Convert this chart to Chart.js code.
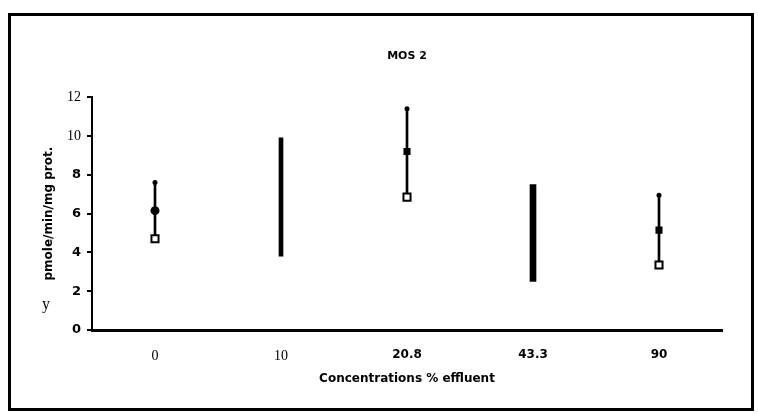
<!DOCTYPE html>
<html>
<head>
<meta charset="utf-8">
<script src="https://cdn.jsdelivr.net/npm/chart.js@4"></script>
<style>
  body { margin: 0; background: #fff; }
  #wrap { width: 758px; height: 416px; }
</style>
</head>
<body>
<div id="wrap"><canvas id="mos2-chart" width="758" height="416"></canvas></div>
<script>
// valeurs
const categories = ['0', '10', '20.8', '43.3', '90'];
const highs = [7.6, 9.9, 11.4, 7.5, 6.95];
const means = [6.15, null, 9.2, null, 5.15];
const lows = [4.7, 3.8, 6.85, 2.5, 3.35];
const yTicks = [0, 2, 4, 6, 8, 10, 12];

const serif = "'Liberation Serif', 'DejaVu Serif', serif";
const sans = "'DejaVu Sans', 'Liberation Sans', sans-serif";

// cadre + le petit "y" du scan
const framePlugin = {
    id: 'frame',
    afterDraw(chart) {
        const ctx = chart.ctx;
        ctx.save();
        ctx.strokeStyle = '#000';
        ctx.lineWidth = 3;
        ctx.strokeRect(9.5, 14.5, 743, 395);
        ctx.fillStyle = '#000';
        ctx.font = '16px ' + serif;
        ctx.textAlign = 'center';
        ctx.textBaseline = 'middle';
        ctx.fillText('y', 46, 305);
        ctx.restore();
    }
};

const hasMarker = means.map(m => m !== null);

function thickBar(idx, width) {
    return {
        type: 'bar',
        data: categories.map((c, i) => (i === idx ? [lows[i], highs[i]] : null)),
        backgroundColor: '#000',
        barThickness: width,
        grouped: false,
        order: 3
    };
}

new Chart(document.getElementById('mos2-chart'), {
    type: 'bar',
    data: {
        labels: categories,
        datasets: [
            {
                // trait fin entre le max et le min
                type: 'bar',
                data: categories.map((c, i) => (hasMarker[i] ? [lows[i], highs[i]] : null)),
                backgroundColor: '#000',
                barThickness: 2,
                grouped: false,
                order: 3
            },
            thickBar(1, 4),
            thickBar(3, 6),
            {
                type: 'line',
                data: categories.map((c, i) => (hasMarker[i] ? highs[i] : null)),
                showLine: false,
                pointStyle: 'circle',
                pointRadius: 2.5,
                pointBackgroundColor: '#000',
                pointBorderColor: '#000',
                pointBorderWidth: 0,
                order: 1
            },
            {
                type: 'line',
                data: means,
                showLine: false,
                pointStyle: ctx => (ctx.dataIndex === 0 ? 'circle' : 'rect'),
                pointRadius: ctx => (ctx.dataIndex === 0 ? 4.5 : 5),
                pointBackgroundColor: '#000',
                pointBorderColor: '#000',
                pointBorderWidth: 0,
                order: 1
            },
            {
                type: 'line',
                data: categories.map((c, i) => (hasMarker[i] ? lows[i] : null)),
                showLine: false,
                pointStyle: 'rect',
                pointRadius: 5,
                pointBackgroundColor: '#fff',
                pointBorderColor: '#000',
                pointBorderWidth: 2,
                order: 1
            }
        ]
    },
    options: {
        responsive: false,
        animation: false,
        layout: {
            padding: { left: 0, right: 36, top: 0, bottom: 0 }
        },
        plugins: {
            legend: { display: false },
            tooltip: { enabled: false },
            title: {
                display: true,
                text: 'MOS 2',
                fullSize: false,
                color: '#000',
                font: { family: sans, size: 11, weight: 'bold' },
                padding: { top: 50, bottom: 34 }
            }
        },
        scales: {
            x: {
                offset: true,
                grid: { display: false },
                border: { display: true, color: '#000', width: 3 },
                ticks: {
                    color: '#000',
                    padding: 10,
                    font: ctx => (ctx.index < 2
                        ? { family: serif, size: 14 }
                        : { family: sans, size: 12, weight: 'bold' })
                },
                title: {
                    display: true,
                    text: 'Concentrations % effluent',
                    color: '#000',
                    font: { family: sans, size: 12, weight: 'bold' },
                    padding: { top: 4, bottom: 30 }
                },
                afterFit: scale => { scale.height = 86; }
            },
            y: {
                min: 0,
                max: 12,
                afterBuildTicks: scale => {
                    scale.ticks = yTicks.map(v => ({ value: v }));
                },
                grid: {
                    drawOnChartArea: false,
                    drawTicks: true,
                    tickLength: 5,
                    color: '#000',
                    lineWidth: 2
                },
                border: { display: true, color: '#000', width: 2 },
                ticks: {
                    color: '#000',
                    padding: 6,
                    font: ctx => (ctx.tick && ctx.tick.value >= 10
                        ? { family: serif, size: 14 }
                        : { family: sans, size: 13, weight: 'bold' })
                },
                title: {
                    display: true,
                    text: 'pmole/min/mg prot.',
                    color: '#000',
                    font: { family: sans, size: 12, weight: 'bold' },
                    padding: { top: 42, bottom: 0 }
                },
                afterFit: scale => { scale.width = 92; }
            }
        }
    },
    plugins: [framePlugin]
});
</script>
</body>
</html>
